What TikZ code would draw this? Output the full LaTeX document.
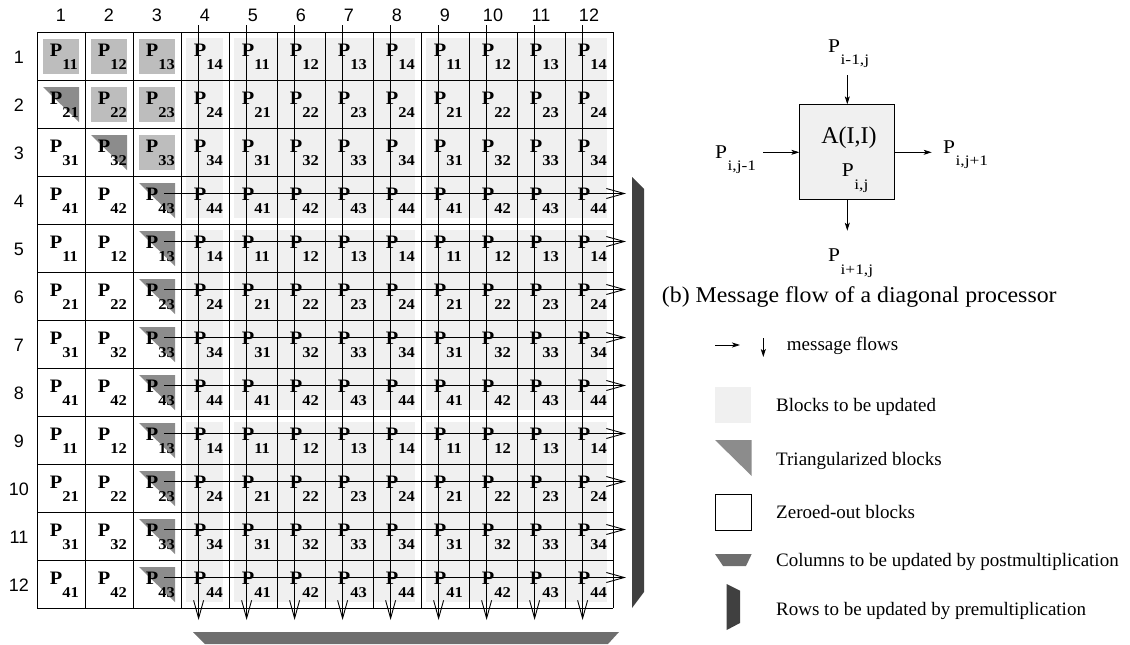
\documentclass[tikz,border=0pt]{standalone}
\usepackage{fontspec}
\setmainfont{Liberation Serif}
\newfontfamily\hel{Liberation Sans}
\usetikzlibrary{arrows.meta}
\definecolor{lightfill}{HTML}{F0F0F0}
\definecolor{sqfill}{HTML}{BDBDBD}
\definecolor{trifill}{HTML}{8C8C8C}
\definecolor{colbar}{HTML}{6E6E6E}
\definecolor{rowbar}{HTML}{404040}
\newcommand{\GP}[1]{\scalebox{1.07}[1]{\fontsize{19}{19}\selectfont\bfseries P}\raisebox{-12.5pt}{\scalebox{1.1}[1]{\fontsize{15}{15}\selectfont\bfseries #1}}}
\newcommand{\NP}[1]{\scalebox{1.1}[1]{\fontsize{19.5}{19.5}\selectfont P}\kern0.5pt\raisebox{-12.5pt}{\scalebox{1.2}[1]{\fontsize{14.5}{14.5}\selectfont #1}}}
\tikzset{
  gridline/.style={line width=0.9pt},
  flow/.style={line width=0.9pt,-{Straight Barb[length=18pt,width=10pt]}},
  msg/.style={line width=0.8pt,-{Stealth[length=8pt,width=5pt,inset=2pt]}},
  lbl/.style={anchor=base west,inner sep=0pt},
  numlbl/.style={inner sep=0pt,font=\hel\fontsize{18}{18}\selectfont},
  legtxt/.style={anchor=base west,inner sep=0pt,font=\fontsize{19}{19}\selectfont},
}
\begin{document}
\begin{tikzpicture}[x=1pt,y=-1pt]
\useasboundingbox (0,0) rectangle (1130,645);
% light gray groups
\foreach \cl/\cr in {4/4,5/8,9/12}{
  \foreach \rt/\rb in {1/4,5/8,9/12}{
    \fill[lightfill] ({37+48*(\cl-1)+5},{32+48*(\rt-1)+6}) rectangle ({37+48*\cr-6},{32+48*\rb-6});
  }
}
% squares
\foreach \r/\c in {1/1,1/2,1/3,2/2,2/3,3/3}{
  \fill[sqfill] ({37+48*(\c-1)+6},{32+48*(\r-1)+7}) rectangle ++(36,35);
}
% triangles
\foreach \r/\c in {2/1,3/2,4/3,5/3,6/3,7/3,8/3,9/3,10/3,11/3,12/3}{
  \fill[trifill] ({37+48*(\c-1)+6},{32+48*(\r-1)+7}) -- ++(36,0) -- ++(0,35) -- cycle;
}
% grid
\foreach \k in {0,...,12}{
  \draw[gridline] ({37+48*\k},32) -- ({37+48*\k},608);
  \draw[gridline] (37,{32+48*\k}) -- (613,{32+48*\k});
}
% labels
\foreach \r in {1,...,12}{
  \foreach \c in {1,...,12}{
    \pgfmathtruncatemacro{\pr}{mod(\r-1,4)+1}
    \pgfmathtruncatemacro{\pc}{mod(\c-1,4)+1}
    \node[lbl] (p-\r-\c) at ({37+48*(\c-1)+12.7},{32+48*(\r-1)+24.5}) {\GP{\pr\pc}};
  }
  \node[numlbl] (rl\r) at (19,{32+48*(\r-1)+25.5}) {\r};
  \node[numlbl] (cl\r) at ({37+48*(\r-1)+24},15.5) {\r};
}
% message flow arrows
\foreach \c in {4,...,12}{
  \coordinate (vt\c) at ({37+48*(\c-1)+17.6},25);
  \coordinate (vb\c) at ({37+48*(\c-1)+17.6},620);
  \draw[flow] (vt\c) -- (vb\c);
}
\foreach \r in {4,...,12}{
  \coordinate (hl\r) at (164,{32+48*(\r-1)+17.5});
  \coordinate (hr\r) at (626,{32+48*(\r-1)+17.5});
  \draw[flow] (hl\r) -- (hr\r);
}
% bars
\fill[rowbar] (632,177) -- (644,189) -- (644,592) -- (632,608) -- cycle;
\fill[colbar] (193,632) -- (619,632) -- (608,644) -- (205,644) -- cycle;
% diagonal processor diagram
\node[draw,fill=lightfill,line width=0.9pt,minimum size=95pt,inner sep=0pt] (A) at (847.3,152.3) {};
\node[anchor=base,inner sep=0pt,font=\fontsize{24}{24}\selectfont] (AII) at (849,143) {A(I,I)};
\node[lbl] (Pij) at (841.7,176.7) {\NP{i,j}};
\node[lbl] (Pup) at (828,52) {\NP{i-1,j}};
\node[lbl] (Pleft) at (715,158) {\NP{i,j-1}};
\node[lbl] (Pright) at (943,153.3) {\NP{i,j+1}};
\node[lbl] (Pdown) at (828,261.7) {\NP{i+1,j}};
\coordinate (ut) at (847.3,75);
\coordinate (lt) at (763.3,152.3);
\coordinate (rt) at (931.7,152.3);
\coordinate (dt) at (847.3,230.7);
\draw[msg] (ut) -- (A.north);
\draw[msg] (lt) -- (A.west);
\draw[msg] (A.east) -- (rt);
\draw[msg] (A.south) -- (dt);
\node[lbl] (cap) at (661.7,302.3) {\scalebox{1.06}[1]{\fontsize{22.5}{22.5}\selectfont (b) Message flow of a diagonal processor}};
% legend
\coordinate (la1) at (715,345);
\coordinate (la2) at (740,345);
\draw[msg] (la1) -- (la2);
\coordinate (ld1) at (763.3,338);
\coordinate (ld2) at (763.3,357);
\draw[msg] (ld1) -- (ld2);
\node[legtxt] (t1) at (786.7,350.7) {message flows};
\fill[lightfill] (715,386.7) rectangle (751,422.7);
\node[legtxt] (t2) at (776,411.7) {Blocks to be updated};
\fill[trifill] (715,440) -- (751.7,440) -- (751.7,476) -- cycle;
\node[legtxt] (t3) at (776,465) {Triangularized blocks};
\draw[line width=0.9pt] (715,494) rectangle (751.7,530.7);
\node[legtxt] (t4) at (776,518.3) {Zeroed-out blocks};
\fill[colbar] (715,554) -- (751.7,554) -- (746,566) -- (723,566) -- cycle;
\node[legtxt] (t5) at (776,566.7) {Columns to be updated by postmultiplication};
\fill[rowbar] (726.7,584) -- (740,590.7) -- (740,623) -- (726.7,630) -- cycle;
\node[legtxt] (t6) at (776,615) {Rows to be updated by premultiplication};
\end{tikzpicture}
\end{document}
